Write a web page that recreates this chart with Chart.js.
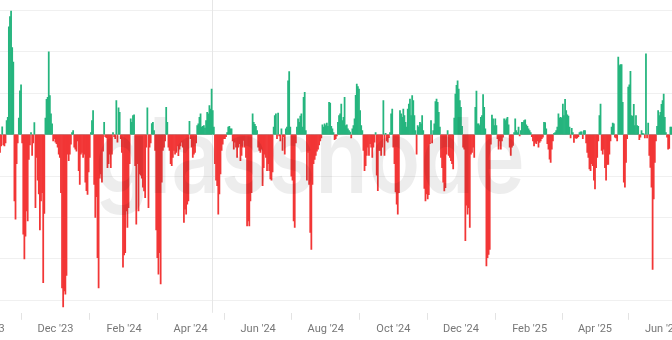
<!DOCTYPE html>
<html>
<head>
<meta charset="utf-8">
<script src="https://cdn.jsdelivr.net/npm/chart.js@4.4.1/dist/chart.umd.min.js"></script>
<style>
  html, body { margin: 0; padding: 0; background: #ffffff; overflow: hidden; width: 672px; height: 340px; }
  #wrap { position: absolute; left: -40px; top: 0; width: 752px; height: 340px; }
</style>
</head>
<body>
<div id="wrap"><canvas id="chart" width="752" height="340"></canvas></div>
<script>
// Daily net values, one entry per day starting 12 Oct 2023
const firstDay = [2023, 10, 12];

// 12 Oct 2023 – 20 Jan 2024
const flowsOct23 = [
  -0.43,-0.27,0.19,-0.25,-0.27,-0.2,0.34,0.42,2.6,2.85,
  2.98,2.1,1.75,-1.6,-2.04,-0.7,-0.2,0.4,1.06,1.2,
  -0.2,-2.4,-3.0,-2.45,-1.84,-2.08,-0.6,-0.25,0.05,-0.5,
  -0.2,0.29,-1.76,-0.55,-1.1,-1.43,-2.3,-1.6,-1.4,-3.57,
  -1.9,0.4,0.85,0.9,2.0,0.94,0.5,0.26,-0.15,-0.1,
  -0.18,-0.22,-0.3,-0.47,-0.55,-1.4,-3.7,-4.16,-3.77,-3.85,
  -3.4,-0.47,-0.63,-0.47,-0.23,0.05,0.1,-0.3,-0.35,-0.4,
  -0.15,-0.87,-1.2,-0.47,-0.43,-0.55,-0.47,-1.15,-1.35,-1.44,
  -0.9,-0.55,0.05,0.34,0.58,-1.2,-2.0,-1.5,-2.97,-3.7,
  -1.05,-0.95,-1.15,-0.4,0.3,-0.05,-0.07,-0.8,-0.7,-0.47,
  -0.8
];
// 21 Jan 2024 – 30 Apr 2024
const flowsJan24 = [
  -0.47,0.05,-0.05,-0.1,0.82,-0.18,0.65,0.54,-0.1,-0.43,
  -3.2,-2.9,-2.85,-1.84,-2.24,-1.76,-0.7,0.38,0.3,0.46,
  0.48,-0.75,-2.16,-0.7,-1.84,-0.95,-0.98,-1.05,-1.27,-1.36,
  -1.52,-0.3,0.65,-1.76,-0.3,-0.2,0.27,0.3,0.1,-0.38,
  -2.3,-2.97,-3.37,-2.85,-3.6,-1.15,-0.38,-0.3,-0.15,0.66,
  0.3,-0.3,-0.38,-0.7,-0.75,-0.55,-0.38,-0.47,-0.43,-0.27,
  -0.51,-0.35,-0.27,-0.18,-0.3,-2.12,-1.8,-1.92,-1.68,-1.6,
  0.32,-0.1,-0.3,-0.55,-0.47,-0.43,-0.2,0.22,0.26,0.42,
  0.5,0.18,0.2,0.22,0.16,0.34,0.54,0.5,0.7,0.62,
  1.1,0.58,0.18,-0.7,-1.1,-1.23,-1.92,-1.43,-0.95,-0.38,
  -0.23
];
// 1 May 2024 – 9 Aug 2024
const flowsMay24 = [
  -0.1,-0.1,-0.05,0.05,0.18,0.2,0.14,0.14,-0.15,-0.35,
  -0.18,-0.3,-0.55,-0.3,-0.22,-0.63,-0.5,-0.3,-0.14,-0.3,
  -0.55,-2.2,-2.08,-2.2,-1.6,-1.4,0.5,0.3,0.25,0.2,
  0.1,-0.3,-0.38,-0.43,-0.35,-1.23,-0.8,-0.47,-0.55,-0.87,
  -0.7,-0.87,-1.07,-1.1,-0.9,0.18,0.46,0.5,-0.1,0.52,
  -0.03,-0.15,0.14,-0.38,-0.05,-0.47,0.14,0.18,1.3,1.52,
  0.18,-1.0,-1.1,-2.08,-2.24,-0.2,0.18,0.38,0.3,0.45,
  0.5,0.18,0.9,1.02,0.1,-1.1,-0.43,-1.2,-2.36,-2.77,
  -1.2,-0.7,-0.6,-0.5,-0.4,-0.35,-0.25,-0.15,-0.08,0.24,
  0.18,0.26,0.22,0.28,0.2,0.78,0.76,0.2,0.14,0.05,
  -0.12
];
// 10 Aug 2024 – 18 Nov 2024
const flowsAug24 = [
  -0.1,-0.03,0.3,0.46,0.5,0.74,0.34,0.42,0.9,0.22,
  0.24,0.14,0.1,0.06,-0.08,0.14,0.22,0.38,0.95,1.22,
  1.16,1.1,0.58,0.22,0.1,-0.38,-0.87,-0.75,-0.5,-0.3,
  -0.5,-0.22,-0.3,-0.55,-0.3,-0.18,0.05,-0.98,-1.35,-0.38,
  -0.38,-0.5,-0.3,0.82,-0.5,0.03,-0.15,-0.18,-0.07,0.05,
  0.5,0.62,-0.3,-0.7,-1.38,-1.68,-1.92,-1.4,0.58,0.5,
  0.42,0.62,0.46,0.3,0.18,0.62,0.74,0.86,0.46,0.94,
  0.82,0.46,0.1,-0.47,0.22,0.18,0.3,0.26,0.46,0.1,
  -1.3,-1.6,-1.43,-1.55,-1.45,-0.22,0.34,-0.2,0.1,0.26,
  0.8,0.86,0.78,0.54,0.18,-0.55,-0.8,-1.15,-1.36,-1.28,
  -0.47
];
// 19 Nov 2024 – 27 Feb 2025
const flowsNov24 = [
  0.1,-0.5,-0.55,-0.63,-0.7,-0.83,0.4,0.98,1.19,1.3,
  1.1,0.82,0.66,0.2,-0.3,-0.35,-2.56,-1.7,-1.92,-1.76,
  -2.24,-0.47,-0.43,-0.3,-0.55,0.66,1.05,0.26,0.26,0.22,
  0.42,0.46,0.97,0.66,0.14,-3.17,-2.97,-2.89,-2.77,-0.23,
  0.47,0.38,0.22,0.38,0.22,-0.1,-0.35,-0.15,-0.35,-0.15,
  -0.06,0.38,0.34,0.38,0.42,0.24,-0.3,-0.5,-0.3,-0.26,
  0.05,0.38,0.1,0.05,0.18,-0.03,0.1,0.3,0.3,0.34,
  0.36,0.24,0.2,0.14,0.1,0.05,-0.05,-0.15,-0.27,-0.19,
  -0.22,-0.15,-0.3,-0.19,-0.15,-0.1,-0.06,0.3,0.29,0.14,
  -0.22,-0.35,-0.59,-0.67,-0.35,-0.15,0.03,0.05,0.1,0.18,
  0.5
];
// 28 Feb 2025 – 9 Jun 2025
const flowsFeb25 = [
  0.4,0.42,0.4,0.74,0.46,0.85,0.58,0.48,0.45,0.18,
  -0.08,0.15,0.05,-0.19,-0.07,-0.09,-0.08,-0.05,0.05,0.07,
  0.07,-0.1,0.1,0.1,-0.2,-0.43,-0.55,-0.83,-0.87,-0.7,
  -0.75,-1.1,-1.31,-0.8,-0.55,-0.15,0.46,0.74,-0.38,-0.47,
  -0.35,-0.8,-1.1,-0.72,-0.72,-0.47,-0.15,0.18,0.28,0.26,
  -0.06,-0.08,-0.15,1.87,1.67,1.69,1.69,0.78,-1.15,-1.27,
  -0.67,-0.1,1.15,1.2,1.53,0.46,0.44,0.73,0.22,0.46,
  0.22,0.2,-0.12,-0.06,0.1,0.03,0.02,-0.08,1.95,-0.08,
  0.28,-0.5,-0.79,-1.27,-3.25,-1.55,-0.67,-0.15,0.2,0.58,
  0.46,0.54,0.73,0.82,0.98,0.42,0.05,-0.06,-0.35,-0.33,
  0.18,0.18
];

// Month ticks on the time axis and their labels
const tickMonths = [[2023,10],[2023,12],[2024,2],[2024,4],[2024,6],[2024,8],[2024,10],[2024,12],[2025,2],[2025,4],[2025,6]];
const tickLabels = ["Oct '23","Dec '23","Feb '24","Apr '24","Jun '24","Aug '24","Oct '24","Dec '24","Feb '25","Apr '25","Jun '25"];
// Event marker (halving)
const markerDates = [[2024,4,20]];
// Horizontal grid values
const gridValues = [-4,-3,-2,-1,0,1,2,3];

const GREEN = '#25b57e';
const RED = '#f23636';
const DAY = 86400000;
const t0 = Date.UTC(firstDay[0], firstDay[1]-1, firstDay[2]);
const dayIndex = (y, m, d) => Math.round((Date.UTC(y, m-1, d) - t0) / DAY);

const allFlows = [].concat(flowsOct23, flowsJan24, flowsMay24, flowsAug24, flowsNov24, flowsFeb25);
const points = allFlows.map((v, i) => ({ x: i, y: v }));
const tickDays = tickMonths.map(([y, m]) => dayIndex(y, m, 1));
const markerDays = markerDates.map(([y, m, d]) => dayIndex(y, m, d));

// view geometry: the canvas overhangs the window by 40px on each side
const overhang = 40;
const visibleDays = 606.5;
const pxPerDay = 672 / visibleDays;

const markerLines = {
  id: 'markerLines',
  beforeDatasetsDraw(chart) {
    const { ctx, chartArea, scales } = chart;
    ctx.save();
    ctx.strokeStyle = '#e6e6e6';
    ctx.lineWidth = 1;
    markerDays.forEach(d => {
      const x = Math.round(scales.x.getPixelForValue(d)) + 0.5;
      ctx.beginPath();
      ctx.moveTo(x, 0);
      ctx.lineTo(x, chartArea.bottom);
      ctx.stroke();
    });
    ctx.restore();
  }
};

const watermark = {
  id: 'watermark',
  afterDatasetsDraw(chart) {
    const { ctx } = chart;
    ctx.save();
    ctx.font = '600 104px Inter';
    const w = ctx.measureText('glassnode').width;
    ctx.translate(overhang + 95, 193);
    ctx.scale(430 / w, 1);
    ctx.fillStyle = 'rgba(0,0,0,0.07)';
    ctx.textBaseline = 'alphabetic';
    ctx.fillText('glassnode', 0, 0);
    ctx.restore();
  }
};

new Chart(document.getElementById('chart'), {
  type: 'bar',
  data: {
    datasets: [{
      data: points,
      backgroundColor: c => (c.raw && c.raw.y >= 0 ? GREEN : RED),
      borderWidth: 0,
      barPercentage: 1,
      categoryPercentage: 1
    }]
  },
  options: {
    responsive: false,
    devicePixelRatio: 1,
    animation: false,
    layout: { padding: { top: 0, left: 0, right: 0, bottom: 1 } },
    plugins: { legend: { display: false }, tooltip: { enabled: false } },
    scales: {
      x: {
        type: 'linear',
        offset: false,
        min: -overhang / pxPerDay,
        max: visibleDays + overhang / pxPerDay,
        afterBuildTicks: s => { s.ticks = tickDays.map(v => ({ value: v })); },
        ticks: {
          autoSkip: false,
          maxRotation: 0,
          padding: 3,
          color: '#777777',
          font: { family: 'Roboto', size: 11 },
          callback: (v) => tickLabels[tickDays.indexOf(v)] || ''
        },
        grid: { drawOnChartArea: false, drawTicks: true, tickLength: 7, color: '#e3e3e3' },
        border: { display: false }
      },
      y: {
        min: -4.3,
        max: 3.25,
        afterBuildTicks: s => { s.ticks = gridValues.map(v => ({ value: v })); },
        ticks: { display: false },
        grid: {
          drawTicks: false,
          color: c => (c.tick && c.tick.value === 0 ? '#b9a3a3' : '#f0f0f0'),
          lineWidth: 1
        },
        border: { display: false }
      }
    }
  },
  plugins: [markerLines, watermark]
});
</script>
</body>
</html>
